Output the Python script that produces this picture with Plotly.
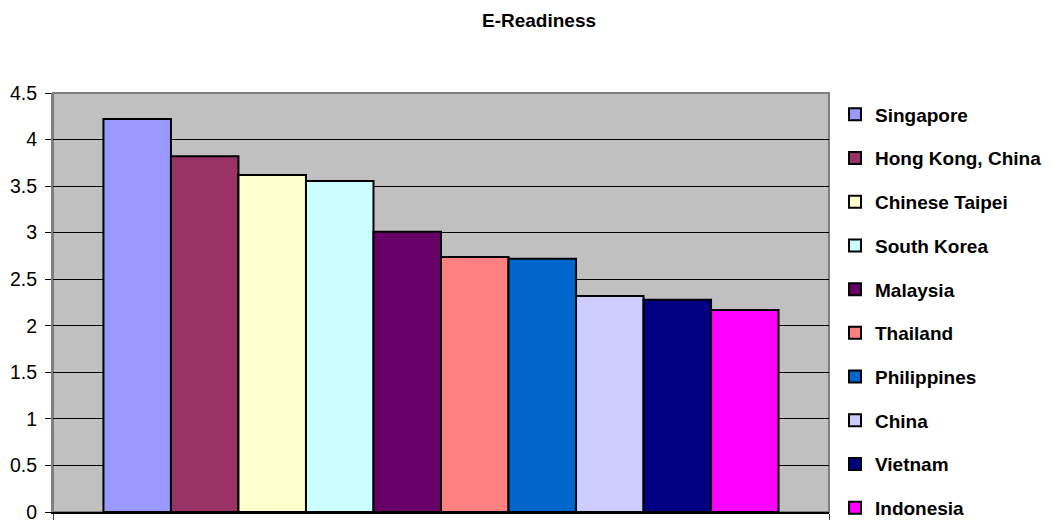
import plotly.graph_objects as go

title_text = "E-Readiness"
countries = ["Singapore", "Hong Kong, China", "Chinese Taipei", "South Korea", "Malaysia",
             "Thailand", "Philippines", "China", "Vietnam", "Indonesia"]
scores = [4.22, 3.82, 3.62, 3.555, 3.01, 2.74, 2.72, 2.32, 2.28, 2.17]
colors = ["#9999FF", "#993366", "#FFFFCC", "#CCFFFF", "#660066",
          "#FF8080", "#0066CC", "#CCCCFF", "#000080", "#FF00FF"]
y_ticks = [0, 0.5, 1, 1.5, 2, 2.5, 3, 3.5, 4, 4.5]
y_tick_text = ["0", "0.5", "1", "1.5", "2", "2.5", "3", "3.5", "4", "4.5"]

W, H = 1052, 523
fig = go.Figure()
for i, (name, val, col) in enumerate(zip(countries, scores, colors)):
    fig.add_trace(go.Bar(
        x=[title_text], y=[val], name=name, legendgroup=f"g{i}",
        marker=dict(color=col, line=dict(color="black", width=2)),
    ))

fig.update_layout(
    width=W, height=H,
    barmode="group", bargap=0.13, bargroupgap=0,
    paper_bgcolor="white", plot_bgcolor="#C0C0C0",
    margin=dict(l=53, r=223, t=93, b=11, pad=0, autoexpand=False),
    font=dict(family="Liberation Sans, Arial, sans-serif", color="black"),
    title=dict(text="<b>" + title_text + "</b>", x=539 / W, xref="container", xanchor="center",
               y=1 - 20 / H, yref="container", yanchor="middle",
               font=dict(size=19, family="Liberation Sans, Arial, sans-serif")),
    showlegend=True,
    legend=dict(x=(835 - 53) / 776, xanchor="left", y=0.994, yanchor="top",
                font=dict(size=19, family="Liberation Sans, Arial, sans-serif", weight="bold"),
                bgcolor="rgba(0,0,0,0)", borderwidth=0, tracegroupgap=16,
                traceorder="grouped", maxheight=700),
    xaxis=dict(showticklabels=False, tickson="boundaries", ticks="outside", ticklen=6,
               tickcolor="#404040", showline=True, linecolor="black", linewidth=1.5,
               showgrid=False, zeroline=False),
    yaxis=dict(range=[0, 4.5], tickvals=y_ticks, ticktext=y_tick_text, ticks="outside",
               ticklen=6, tickcolor="black", showline=True, linecolor="#808080", linewidth=2,
               showgrid=True, gridcolor="black", gridwidth=1, zeroline=False,
               tickfont=dict(size=19.5), ticklabelstandoff=4),
    shapes=[dict(type="rect", xref="paper", yref="paper", x0=0, x1=1, y0=0, y1=1,
                 line=dict(color="#808080", width=2), layer="below")],
)

fig.write_html("out.html")
